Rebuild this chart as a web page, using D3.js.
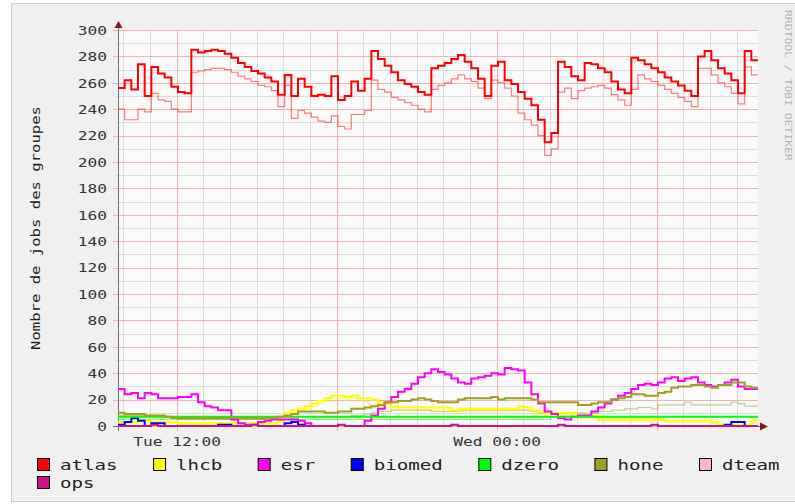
<!DOCTYPE html>
<html lang="en">
<head>
<meta charset="UTF-8">
<title>Nombre de jobs des groupes</title>
<script src="https://d3js.org/d3.v7.min.js"></script>
<style>
  html, body { margin: 0; background: #fff; }
  svg { display: block; }
  text { font-family: 'DejaVu Sans Mono', monospace; }
</style>
</head>
<body>
<svg id="chart" width="795" height="504"></svg>
<script>
// samples every 15 minutes, Tue 09:48 -> Wed 09:48
const startTime = new Date(2008, 0, 15, 9, 48);
const stepMinutes = 15;

const yTicks = [0, 20, 40, 60, 80, 100, 120, 140, 160, 180, 200, 220, 240, 260, 280, 300];

const groups = ["atlas", "lhcb", "esr", "biomed", "dzero", "hone", "dteam", "ops"];
const groupColors = ["#ff0000", "#ffff00", "#ff00ff", "#0000ff", "#00ff00", "#a0a020", "#ffb6c1", "#c71585"];

const atlas = [
  256, 262, 255, 274, 250, 272, 267, 264, 257, 253, 252, 285,
  283, 284, 285, 284, 282, 279, 275, 272, 269, 267, 264, 261,
  251, 266, 250, 263, 257, 250, 251, 250, 265, 247, 250, 261,
  254, 263, 284, 278, 273, 268, 262, 259, 257, 253, 251, 271,
  273, 275, 278, 281, 276, 271, 263, 250, 273, 276, 262, 259,
  253, 248, 243, 232, 215, 222, 276, 272, 265, 262, 275, 274,
  271, 268, 261, 255, 252, 279, 277, 274, 271, 268, 264, 261,
  258, 254, 250, 280, 284, 277, 271, 267, 262, 252, 284, 277
];
const atlasThin = [
  240, 232, 232, 240, 238, 252, 247, 246, 240, 238, 238, 268,
  269, 270, 271, 271, 270, 268, 265, 263, 261, 258, 257, 254,
  242, 258, 233, 239, 237, 234, 231, 230, 235, 227, 225, 236,
  236, 239, 262, 255, 253, 249, 247, 245, 243, 240, 238, 255,
  258, 260, 263, 266, 263, 261, 256, 248, 262, 260, 256, 250,
  237, 232, 228, 220, 205, 210, 253, 256, 248, 254, 256, 257,
  258, 256, 251, 247, 243, 255, 266, 263, 261, 258, 255, 252,
  249, 246, 242, 271, 271, 266, 260, 257, 252, 244, 272, 266
];
const lhcb = [
  3, 3, 3, 4, 4, 3, 3, 3, 3, 2, 2, 2,
  2, 2, 2, 2, 2, 2, 2, 2, 2, 2, 2, 2,
  4, 10, 12, 13, 15, 17, 19, 21, 23, 23, 22, 23,
  21, 21, 20, 18, 17, 15, 14, 14, 14, 14, 14, 14,
  14, 14, 12, 13, 13, 13, 13, 13, 13, 13, 13, 13,
  15, 14, 12, 11, 10, 10, 10, 10, 9, 8, 8, 8,
  5, 5, 5, 5, 5, 5, 5, 5, 5, 5, 4, 4,
  4, 4, 4, 4, 4, 3, 1, 1, 1, 1, 1, 4
];
const lhcbThin = [
  2, 2, 2, 2, 2, 2, 2, 2, 2, 1, 1, 1,
  1, 1, 1, 1, 1, 1, 1, 1, 1, 1, 1, 1,
  3, 8, 10, 11, 13, 15, 17, 19, 21, 21, 20, 21,
  19, 18, 17, 15, 14, 12, 12, 12, 12, 12, 12, 12,
  12, 12, 11, 11, 11, 11, 11, 11, 11, 11, 11, 11,
  12, 12, 10, 9, 8, 8, 8, 8, 7, 6, 6, 6,
  4, 4, 4, 4, 4, 4, 4, 4, 4, 4, 3, 3,
  3, 3, 3, 3, 3, 2, 1, 1, 1, 1, 1, 3
];
const esr = [
  28, 24, 25, 21, 25, 24, 21, 21, 21, 22, 22, 24,
  18, 15, 14, 12, 12, 5, 2, 1, 1, 3, 4, 5,
  5, 5, 5, 4, 2, 0, 0, 0, 0, 0, 0, 0,
  0, 4, 8, 13, 18, 22, 26, 28, 32, 37, 40, 43,
  41, 39, 36, 33, 32, 36, 37, 38, 40, 39, 44, 43,
  42, 33, 24, 17, 11, 9, 6, 5, 7, 8, 8, 11,
  14, 17, 20, 23, 25, 28, 31, 32, 31, 33, 36, 37,
  34, 36, 37, 33, 31, 30, 31, 33, 35, 30, 28, 28
];
const biomed = [
  1, 3, 6, 4, 0, 2, 2, 0, 0, 0, 0, 0,
  0, 0, 0, 1, 1, 0, 0, 0, 0, 0, 0, 0,
  0, 2, 3, 1, 0, 0, 0, 0, 0, 0, 0, 0,
  0, 0, 0, 0, 0, 0, 0, 0, 0, 0, 0, 0,
  0, 0, 0, 0, 0, 0, 0, 0, 0, 0, 0, 0,
  0, 0, 0, 0, 0, 0, 0, 0, 0, 0, 0, 0,
  0, 0, 0, 0, 0, 0, 0, 0, 0, 0, 0, 0,
  0, 0, 0, 0, 0, 0, 0, 1, 3, 3, 0, 0
];
const dzero = [
  7, 7, 7, 7, 7, 7, 7, 7, 7, 7, 7, 7,
  7, 7, 7, 7, 7, 7, 7, 7, 7, 7, 7, 7,
  7, 7, 7, 7, 7, 7, 7, 7, 7, 7, 7, 7,
  7, 7, 7, 7, 7, 7, 7, 7, 7, 7, 7, 7,
  7, 7, 7, 7, 7, 7, 7, 7, 7, 7, 7, 7,
  7, 7, 7, 7, 7, 7, 7, 7, 7, 7, 7, 7,
  7, 7, 7, 7, 7, 7, 7, 7, 7, 7, 7, 7,
  7, 7, 7, 7, 7, 7, 7, 7, 7, 7, 7, 7
];
const dzeroThin = [
  5, 5, 5, 5, 5, 5, 5, 5, 5, 5, 5, 5,
  5, 5, 5, 5, 5, 5, 5, 5, 5, 5, 5, 5,
  5, 5, 5, 5, 5, 5, 5, 5, 5, 5, 5, 5,
  5, 5, 5, 5, 5, 5, 5, 5, 5, 5, 5, 5,
  5, 5, 5, 5, 5, 5, 5, 5, 5, 5, 5, 5,
  5, 5, 5, 5, 5, 7, 7, 7, 7, 7, 7, 7,
  7, 7, 7, 7, 7, 7, 7, 7, 7, 7, 7, 7,
  7, 7, 7, 7, 7, 7, 7, 7, 7, 7, 7, 7
];
const hone = [
  10, 9, 9, 9, 8, 8, 8, 7, 6, 6, 6, 6,
  6, 6, 6, 6, 6, 6, 6, 6, 6, 6, 6, 6,
  7, 8, 9, 11, 11, 11, 11, 10, 10, 11, 11, 13,
  13, 14, 15, 16, 18, 18, 19, 19, 20, 21, 20, 19,
  18, 18, 18, 20, 21, 21, 21, 21, 22, 20, 21, 21,
  21, 21, 20, 18, 18, 18, 18, 18, 18, 16, 16, 17,
  18, 18, 20, 21, 22, 24, 24, 23, 23, 25, 26, 29,
  30, 30, 31, 31, 30, 29, 31, 31, 33, 33, 30, 29
];
const honeThin = [
  8, 8, 8, 8, 8, 7, 7, 7, 7, 5, 5, 5,
  5, 5, 5, 5, 5, 5, 5, 5, 5, 5, 5, 5,
  5, 5, 6, 7, 7, 7, 7, 7, 7, 7, 7, 8,
  8, 9, 10, 11, 11, 12, 12, 12, 12, 12, 12, 11,
  11, 11, 11, 12, 12, 12, 12, 12, 12, 12, 12, 12,
  12, 12, 11, 10, 10, 10, 10, 10, 10, 10, 9, 10,
  11, 11, 12, 12, 13, 13, 14, 14, 13, 16, 16, 16,
  16, 18, 16, 16, 16, 16, 16, 16, 18, 17, 15, 15
];
const dteam = [
  0, 0, 0, 0, 0, 0, 0, 0, 0, 0, 0, 0,
  0, 0, 0, 0, 0, 0, 0, 0, 0, 0, 0, 0,
  0, 0, 0, 0, 0, 0, 0, 0, 0, 0, 0, 0,
  0, 0, 0, 0, 0, 0, 0, 0, 0, 0, 0, 0,
  0, 0, 0, 0, 0, 0, 0, 0, 0, 0, 0, 0,
  0, 0, 0, 0, 0, 0, 0, 0, 0, 0, 0, 0,
  0, 0, 0, 0, 0, 0, 0, 0, 0, 0, 0, 0,
  0, 0, 0, 0, 0, 0, 0, 0, 0, 0, 0, 0
];
const ops = [
  0, 0, 0, 0, 0, 1, 0, 0, 0, 0, 0, 0,
  0, 0, 0, 0, 0, 0, 0, 0, 1, 0, 0, 0,
  0, 0, 0, 0, 0, 0, 0, 0, 0, 1, 0, 0,
  0, 0, 0, 0, 0, 0, 0, 0, 0, 0, 0, 0,
  0, 0, 1, 0, 0, 0, 0, 0, 0, 0, 0, 0,
  0, 0, 0, 0, 0, 0, 1, 0, 0, 0, 0, 0,
  0, 0, 0, 0, 0, 0, 0, 0, 1, 0, 0, 0,
  0, 0, 0, 0, 0, 0, 0, 0, 0, 0, 0, 0
];

// thin (light) lines drawn first, then the thick ones in legend order
const thinSeries = [
  { values: atlasThin, color: groupColors[0] },
  { values: lhcbThin, color: groupColors[1] },
  { values: dzeroThin, color: groupColors[4] },
  { values: honeThin, color: groupColors[5] }
];
const thickSeries = [atlas, lhcb, esr, biomed, dzero, hone, dteam, ops]
  .map((values, i) => ({ values, color: groupColors[i] }));

const plotLeft = 118, plotRight = 758, plotTop = 30, plotBottom = 426;
const endTime = d3.timeMinute.offset(startTime, stepMinutes * atlas.length);

const svg = d3.select("#chart");

const x = d3.scaleTime().domain([startTime, endTime]).range([plotLeft, plotRight]);
const y = d3.scaleLinear().domain([0, 300]).range([plotBottom, plotTop]);

// background + frame
svg.append("rect").attr("width", 795).attr("height", 504).attr("fill", "#ffffff");
svg.append("rect")
  .attr("x", 11.5).attr("y", 3.5).attr("width", 800).attr("height", 498)
  .attr("fill", "#f0f0f0").attr("stroke", "#cdcdcd");
svg.append("rect")
  .attr("x", plotLeft).attr("y", plotTop)
  .attr("width", plotRight - plotLeft).attr("height", plotBottom - plotTop)
  .attr("fill", "#fafafa");

const minorColor = "#dcdcdc";
const majorColor = "#f3b2b2";

// horizontal grid
const grid = svg.append("g").attr("shape-rendering", "crispEdges");
grid.selectAll(".hminor").data(d3.range(10, 300, 20)).join("line")
  .attr("x1", plotLeft - 2).attr("x2", plotRight)
  .attr("y1", d => Math.round(y(d)) + 0.5).attr("y2", d => Math.round(y(d)) + 0.5)
  .attr("stroke", minorColor);

// vertical grid, one line per hour, red every 6 hours
const hours = d3.timeHour.range(startTime, endTime);
grid.selectAll(".vline").data(hours).join("line")
  .attr("x1", d => Math.round(x(d)) + 0.5).attr("x2", d => Math.round(x(d)) + 0.5)
  .attr("y1", plotTop).attr("y2", d => d.getHours() % 6 === 0 ? plotBottom + 5 : plotBottom + 2)
  .attr("stroke", d => d.getHours() % 6 === 0 ? majorColor : minorColor);

grid.selectAll(".hmajor").data(yTicks).join("line")
  .attr("x1", plotLeft - 5).attr("x2", plotRight)
  .attr("y1", d => Math.round(y(d)) + 0.5).attr("y2", d => Math.round(y(d)) + 0.5)
  .attr("stroke", majorColor);

// y axis labels
const yAxis = d3.axisLeft(y).tickValues(yTicks).tickSize(0).tickFormat(d3.format("d"));
const gy = svg.append("g").attr("transform", `translate(${plotLeft},0)`).call(yAxis);
gy.select(".domain").remove();
gy.selectAll("text")
  .attr("x", null).attr("dy", null)
  .attr("transform", "translate(-11,4.3) scale(1.35,1)")
  .attr("font-family", "DejaVu Sans Mono").attr("font-size", 12)
  .attr("fill", "#333");

// x axis labels
const xAxis = d3.axisBottom(x).ticks(d3.timeHour.every(12)).tickSize(0)
  .tickFormat(d3.timeFormat("%a %H:%M"));
const gx = svg.append("g").attr("transform", `translate(0,${plotBottom})`).call(xAxis);
gx.select(".domain").remove();
gx.selectAll("text")
  .attr("y", null).attr("dy", null)
  .attr("transform", "translate(0,20) scale(1.35,1)")
  .attr("font-family", "DejaVu Sans Mono").attr("font-size", 12)
  .attr("fill", "#333");

// axis lines with arrows
const axisG = svg.append("g");
axisG.append("line")
  .attr("x1", plotLeft + 0.5).attr("x2", plotLeft + 0.5)
  .attr("y1", plotBottom + 5).attr("y2", plotTop - 6)
  .attr("stroke", "#707070").attr("shape-rendering", "crispEdges");
axisG.append("line")
  .attr("x1", plotLeft - 5).attr("x2", plotRight + 4)
  .attr("y1", plotBottom + 0.5).attr("y2", plotBottom + 0.5)
  .attr("stroke", "#707070").attr("shape-rendering", "crispEdges");
axisG.append("path")
  .attr("d", `M${plotLeft - 3.5},${plotTop - 2}L${plotLeft + 4.5},${plotTop - 2}L${plotLeft + 0.5},${plotTop - 9}Z`)
  .attr("fill", "#7b1b1b");
axisG.append("path")
  .attr("d", `M${plotRight + 2},${plotBottom - 3.5}L${plotRight + 2},${plotBottom + 4.5}L${plotRight + 10},${plotBottom + 0.5}Z`)
  .attr("fill", "#7b1b1b");

// lines
const line = d3.line()
  .x(d => x(d.t))
  .y(d => y(d.v))
  .curve(d3.curveStepAfter);

function points(values) {
  const pts = values.map((v, i) => ({ t: d3.timeMinute.offset(startTime, i * stepMinutes), v }));
  pts.push({ t: endTime, v: values[values.length - 1] });
  return pts;
}

svg.append("g").selectAll("path").data(thinSeries).join("path")
  .attr("d", d => line(points(d.values)))
  .attr("fill", "none").attr("stroke", d => d.color)
  .attr("stroke-opacity", 0.5).attr("stroke-width", 1.2);

svg.append("g").selectAll("path").data(thickSeries).join("path")
  .attr("d", d => line(points(d.values)))
  .attr("fill", "none").attr("stroke", d => d.color)
  .attr("stroke-width", 2).attr("stroke-linejoin", "miter");

// y label
svg.append("text")
  .attr("transform", `translate(40,${(plotTop + plotBottom) / 2}) rotate(-90) scale(1.2,1)`)
  .attr("text-anchor", "middle")
  .attr("font-size", 13).attr("fill", "#222")
  .text("Nombre de jobs des groupes");

// watermark
svg.append("text")
  .attr("transform", "translate(785,10) rotate(90) scale(1.2,1)")
  .attr("font-size", 9.5).attr("fill", "#b4b4b4")
  .text("RRDTOOL / TOBI OETIKER");

// legend
const legend = svg.append("g");
const legendScale = 1.32;
let lx = 37, ly = 0;
groups.forEach((name, i) => {
  const item = legend.append("g");
  const label = item.append("text")
    .attr("font-size", 14.5).attr("fill", "#222")
    .attr("transform", `scale(${legendScale},1)`)
    .text(name);
  const w = 23 + label.node().getComputedTextLength() * legendScale;
  if (lx + w > 780) { lx = 37; ly += 1; }
  const baseY = 469.5 + ly * 18;
  label.attr("transform", `translate(${lx + 23},${baseY}) scale(${legendScale},1)`);
  item.append("rect")
    .attr("x", lx + 0.5).attr("y", baseY - 11).attr("width", 12).attr("height", 12)
    .attr("fill", groupColors[i]).attr("stroke", "#000");
  lx += w + 35.5;
});
</script>
</body>
</html>
